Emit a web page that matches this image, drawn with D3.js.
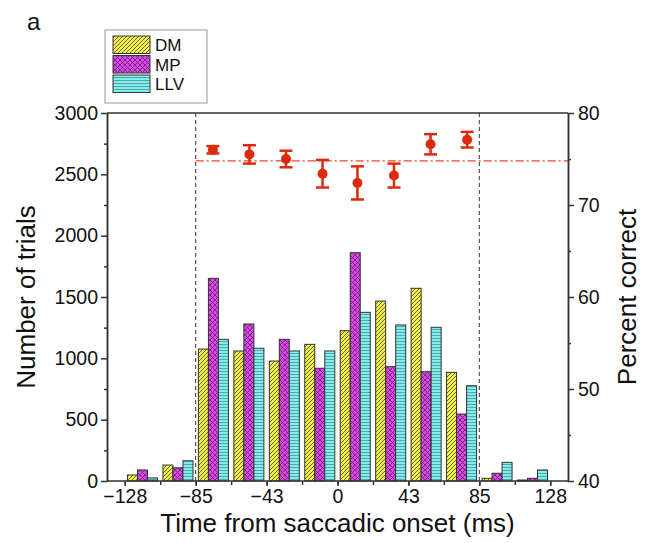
<!DOCTYPE html>
<html>
<head>
<meta charset="utf-8">
<script src="https://cdn.jsdelivr.net/npm/d3@7"></script>
<style>
  body { margin: 0; background: #fff; }
  svg { font-family: "Liberation Sans", Arial, Helvetica, sans-serif; }
</style>
</head>
<body>
<svg id="chart"></svg>
<script>
// bins of 128/6 ms from -128 to 128
var binEdges = d3.range(-6, 6).map(k => k * 128 / 6);
var seriesNames = ["DM", "MP", "LLV"];
var dmCounts  = [49, 130, 1076, 1060, 978, 1114, 1225, 1467, 1571, 886, 22, 8];
var mpCounts  = [90, 108, 1652, 1280, 1155, 919, 1861, 932, 891, 546, 63, 22];
var llvCounts = [25, 165, 1155, 1082, 1060, 1060, 1375, 1272, 1253, 777, 152, 90];

var pcTimes = [-75, -53, -31, -9, 12, 34, 56, 78];
var pcValues = [76.0, 75.5, 75.0, 73.4, 72.4, 73.2, 76.6, 77.1];
var pcErrors = [0.4, 1.0, 0.9, 1.5, 1.8, 1.3, 1.1, 0.85];
var pcRef = 74.8;

var xTickLabels = [-128, -85, -43, 0, 43, 85, 128];
var windowEdges = [-128 * 4 / 6, 128 * 4 / 6];

var width = 647, height = 543;
var pLeft = 107, pRight = 568, pTop = 113, pBottom = 481;

var svg = d3.select("#chart").attr("width", width).attr("height", height);

var x = d3.scaleLinear().domain([-138.7, 138.7]).range([pLeft, pRight]);
var y = d3.scaleLinear().domain([0, 3000]).range([pBottom, pTop]);
var y2 = d3.scaleLinear().domain([40, 80]).range([pBottom, pTop]);
var binW = 128 / 6;
var sub = d3.scaleBand().domain(seriesNames)
    .range([0, x(binW) - x(0)]).paddingOuter(0.27).paddingInner(0);

var fills = { DM: "#f3ef3d", MP: "#df45ef", LLV: "#80eeee" };

// patterns
var defs = svg.append("defs");
var pDM = defs.append("pattern").attr("id", "pat-DM").attr("patternUnits", "userSpaceOnUse")
    .attr("width", 4).attr("height", 4);
pDM.append("rect").attr("width", 4).attr("height", 4).attr("fill", fills.DM);
pDM.append("path").attr("d", "M-1,1 l2,-2 M0,4 l4,-4 M3,5 l2,-2")
    .attr("stroke", "#555").attr("stroke-width", 0.9);

var pMP = defs.append("pattern").attr("id", "pat-MP").attr("patternUnits", "userSpaceOnUse")
    .attr("width", 5).attr("height", 5);
pMP.append("rect").attr("width", 5).attr("height", 5).attr("fill", fills.MP);
pMP.append("path").attr("d", "M0,0 L5,5 M5,0 L0,5")
    .attr("stroke", "#5a2a5a").attr("stroke-width", 0.8);

var pLLV = defs.append("pattern").attr("id", "pat-LLV").attr("patternUnits", "userSpaceOnUse")
    .attr("width", 4).attr("height", 3);
pLLV.append("rect").attr("width", 4).attr("height", 3).attr("fill", fills.LLV);
pLLV.append("path").attr("d", "M0,2.5 L4,2.5")
    .attr("stroke", "#4f8f8f").attr("stroke-width", 0.8);

// bars
var counts = { DM: dmCounts, MP: mpCounts, LLV: llvCounts };
seriesNames.forEach(function(s) {
  svg.append("g").selectAll("rect")
    .data(counts[s])
    .enter()
    .append("rect")
    .attr("x", (d, i) => x(binEdges[i]) + sub(s))
    .attr("y", d => y(d))
    .attr("width", sub.bandwidth())
    .attr("height", d => pBottom - y(d))
    .attr("fill", "url(#pat-" + s + ")")
    .attr("stroke", "#333")
    .attr("stroke-width", 1);
});

// dashed window lines
svg.append("g").selectAll("line")
  .data(windowEdges)
  .enter()
  .append("line")
  .attr("x1", d => x(d)).attr("x2", d => x(d))
  .attr("y1", pTop).attr("y2", pBottom)
  .attr("stroke", "#333").attr("stroke-width", 1)
  .attr("stroke-dasharray", "4,3");

// reference dash-dot line
svg.append("line")
  .attr("x1", x(windowEdges[0])).attr("x2", pRight)
  .attr("y1", y2(pcRef)).attr("y2", y2(pcRef))
  .attr("stroke", "#e8452a").attr("stroke-width", 1.4)
  .attr("stroke-dasharray", "8,3,2,3");

// percent correct with error bars
var red = "#dc2a0c";
var pc = svg.append("g");
pcTimes.forEach(function(t, i) {
  var cx = x(t), lo = y2(pcValues[i] - pcErrors[i]), hi = y2(pcValues[i] + pcErrors[i]);
  pc.append("line").attr("x1", cx).attr("x2", cx).attr("y1", lo).attr("y2", hi)
    .attr("stroke", red).attr("stroke-width", 2.5);
  [lo, hi].forEach(function(yy) {
    pc.append("line").attr("x1", cx - 6.5).attr("x2", cx + 6.5).attr("y1", yy).attr("y2", yy)
      .attr("stroke", red).attr("stroke-width", 2.5);
  });
  pc.append("circle").attr("cx", cx).attr("cy", y2(pcValues[i])).attr("r", 5).attr("fill", red);
});

// axes
var axisColor = "#333";
function styleAxis(g) {
  g.selectAll("path, line").attr("stroke", axisColor).attr("stroke-width", 1.5);
  g.selectAll("text").attr("fill", "#111").style("font-size", "19.5px");
}

var xMinor = svg.append("g").attr("transform", "translate(0," + pBottom + ")")
  .call(d3.axisBottom(x).tickValues(d3.range(-6, 7).map(k => k * 128 / 6))
        .tickSize(4).tickFormat("").tickSizeOuter(0));
styleAxis(xMinor);
xMinor.select(".domain").attr("d", "M" + pLeft + ",0H" + pRight);

var xMajor = svg.append("g").attr("transform", "translate(0," + pBottom + ")")
  .call(d3.axisBottom(x).tickValues(d3.range(-6, 7, 2).map(k => k * 128 / 6))
        .tickSize(5).tickSizeOuter(0).tickPadding(3)
        .tickFormat((d, i) => String(xTickLabels[i]).replace("-", "\u2212")));
styleAxis(xMajor);
xMajor.select(".domain").remove();

var yMinor = svg.append("g").attr("transform", "translate(" + pLeft + ",0)")
  .call(d3.axisLeft(y).tickValues(d3.range(250, 3000, 500)).tickSize(3).tickFormat("").tickSizeOuter(0));
styleAxis(yMinor);
var yAxis = svg.append("g").attr("transform", "translate(" + pLeft + ",0)")
  .call(d3.axisLeft(y).tickValues(d3.range(0, 3001, 500)).tickSize(6).tickSizeOuter(0)
        .tickPadding(3).tickFormat(d3.format("d")));
styleAxis(yAxis);

var y2Minor = svg.append("g").attr("transform", "translate(" + pRight + ",0)")
  .call(d3.axisRight(y2).tickValues([45, 55, 65, 75]).tickSize(3).tickFormat("").tickSizeOuter(0));
styleAxis(y2Minor);
var y2Axis = svg.append("g").attr("transform", "translate(" + pRight + ",0)")
  .call(d3.axisRight(y2).tickValues([40, 50, 60, 70, 80]).tickSize(6).tickSizeOuter(0).tickPadding(4));
styleAxis(y2Axis);

// top border
svg.append("line").attr("x1", pLeft).attr("x2", pRight).attr("y1", pTop).attr("y2", pTop)
  .attr("stroke", axisColor).attr("stroke-width", 1.5);

// axis titles
svg.append("text").attr("x", (pLeft + pRight) / 2).attr("y", 532)
  .attr("text-anchor", "middle").style("font-size", "26px").attr("fill", "#111")
  .text("Time from saccadic onset (ms)");
svg.append("text").attr("transform", "translate(35," + (pTop + pBottom) / 2 + ") rotate(-90)")
  .attr("text-anchor", "middle").style("font-size", "26px").attr("fill", "#111")
  .text("Number of trials");
svg.append("text").attr("transform", "translate(636," + (pTop + pBottom) / 2 + ") rotate(-90)")
  .attr("text-anchor", "middle").style("font-size", "26px").attr("fill", "#111")
  .text("Percent correct");

svg.append("text").attr("x", 27).attr("y", 30).style("font-size", "24px").attr("fill", "#111").text("a");

// legend
var legend = svg.append("g").attr("transform", "translate(105,30)");
legend.append("rect").attr("width", 102).attr("height", 73)
  .attr("fill", "#fff").attr("stroke", "#999").attr("stroke-width", 1);
seriesNames.forEach(function(s, i) {
  legend.append("rect").attr("x", 8).attr("y", 6 + i * 19.5).attr("width", 37).attr("height", 17.5)
    .attr("fill", "url(#pat-" + s + ")").attr("stroke", "#333").attr("stroke-width", 1);
  legend.append("text").attr("x", 50).attr("y", 6 + i * 19.5 + 15)
    .style("font-size", "17px").attr("fill", "#111").text(s);
});
</script>
</body>
</html>
